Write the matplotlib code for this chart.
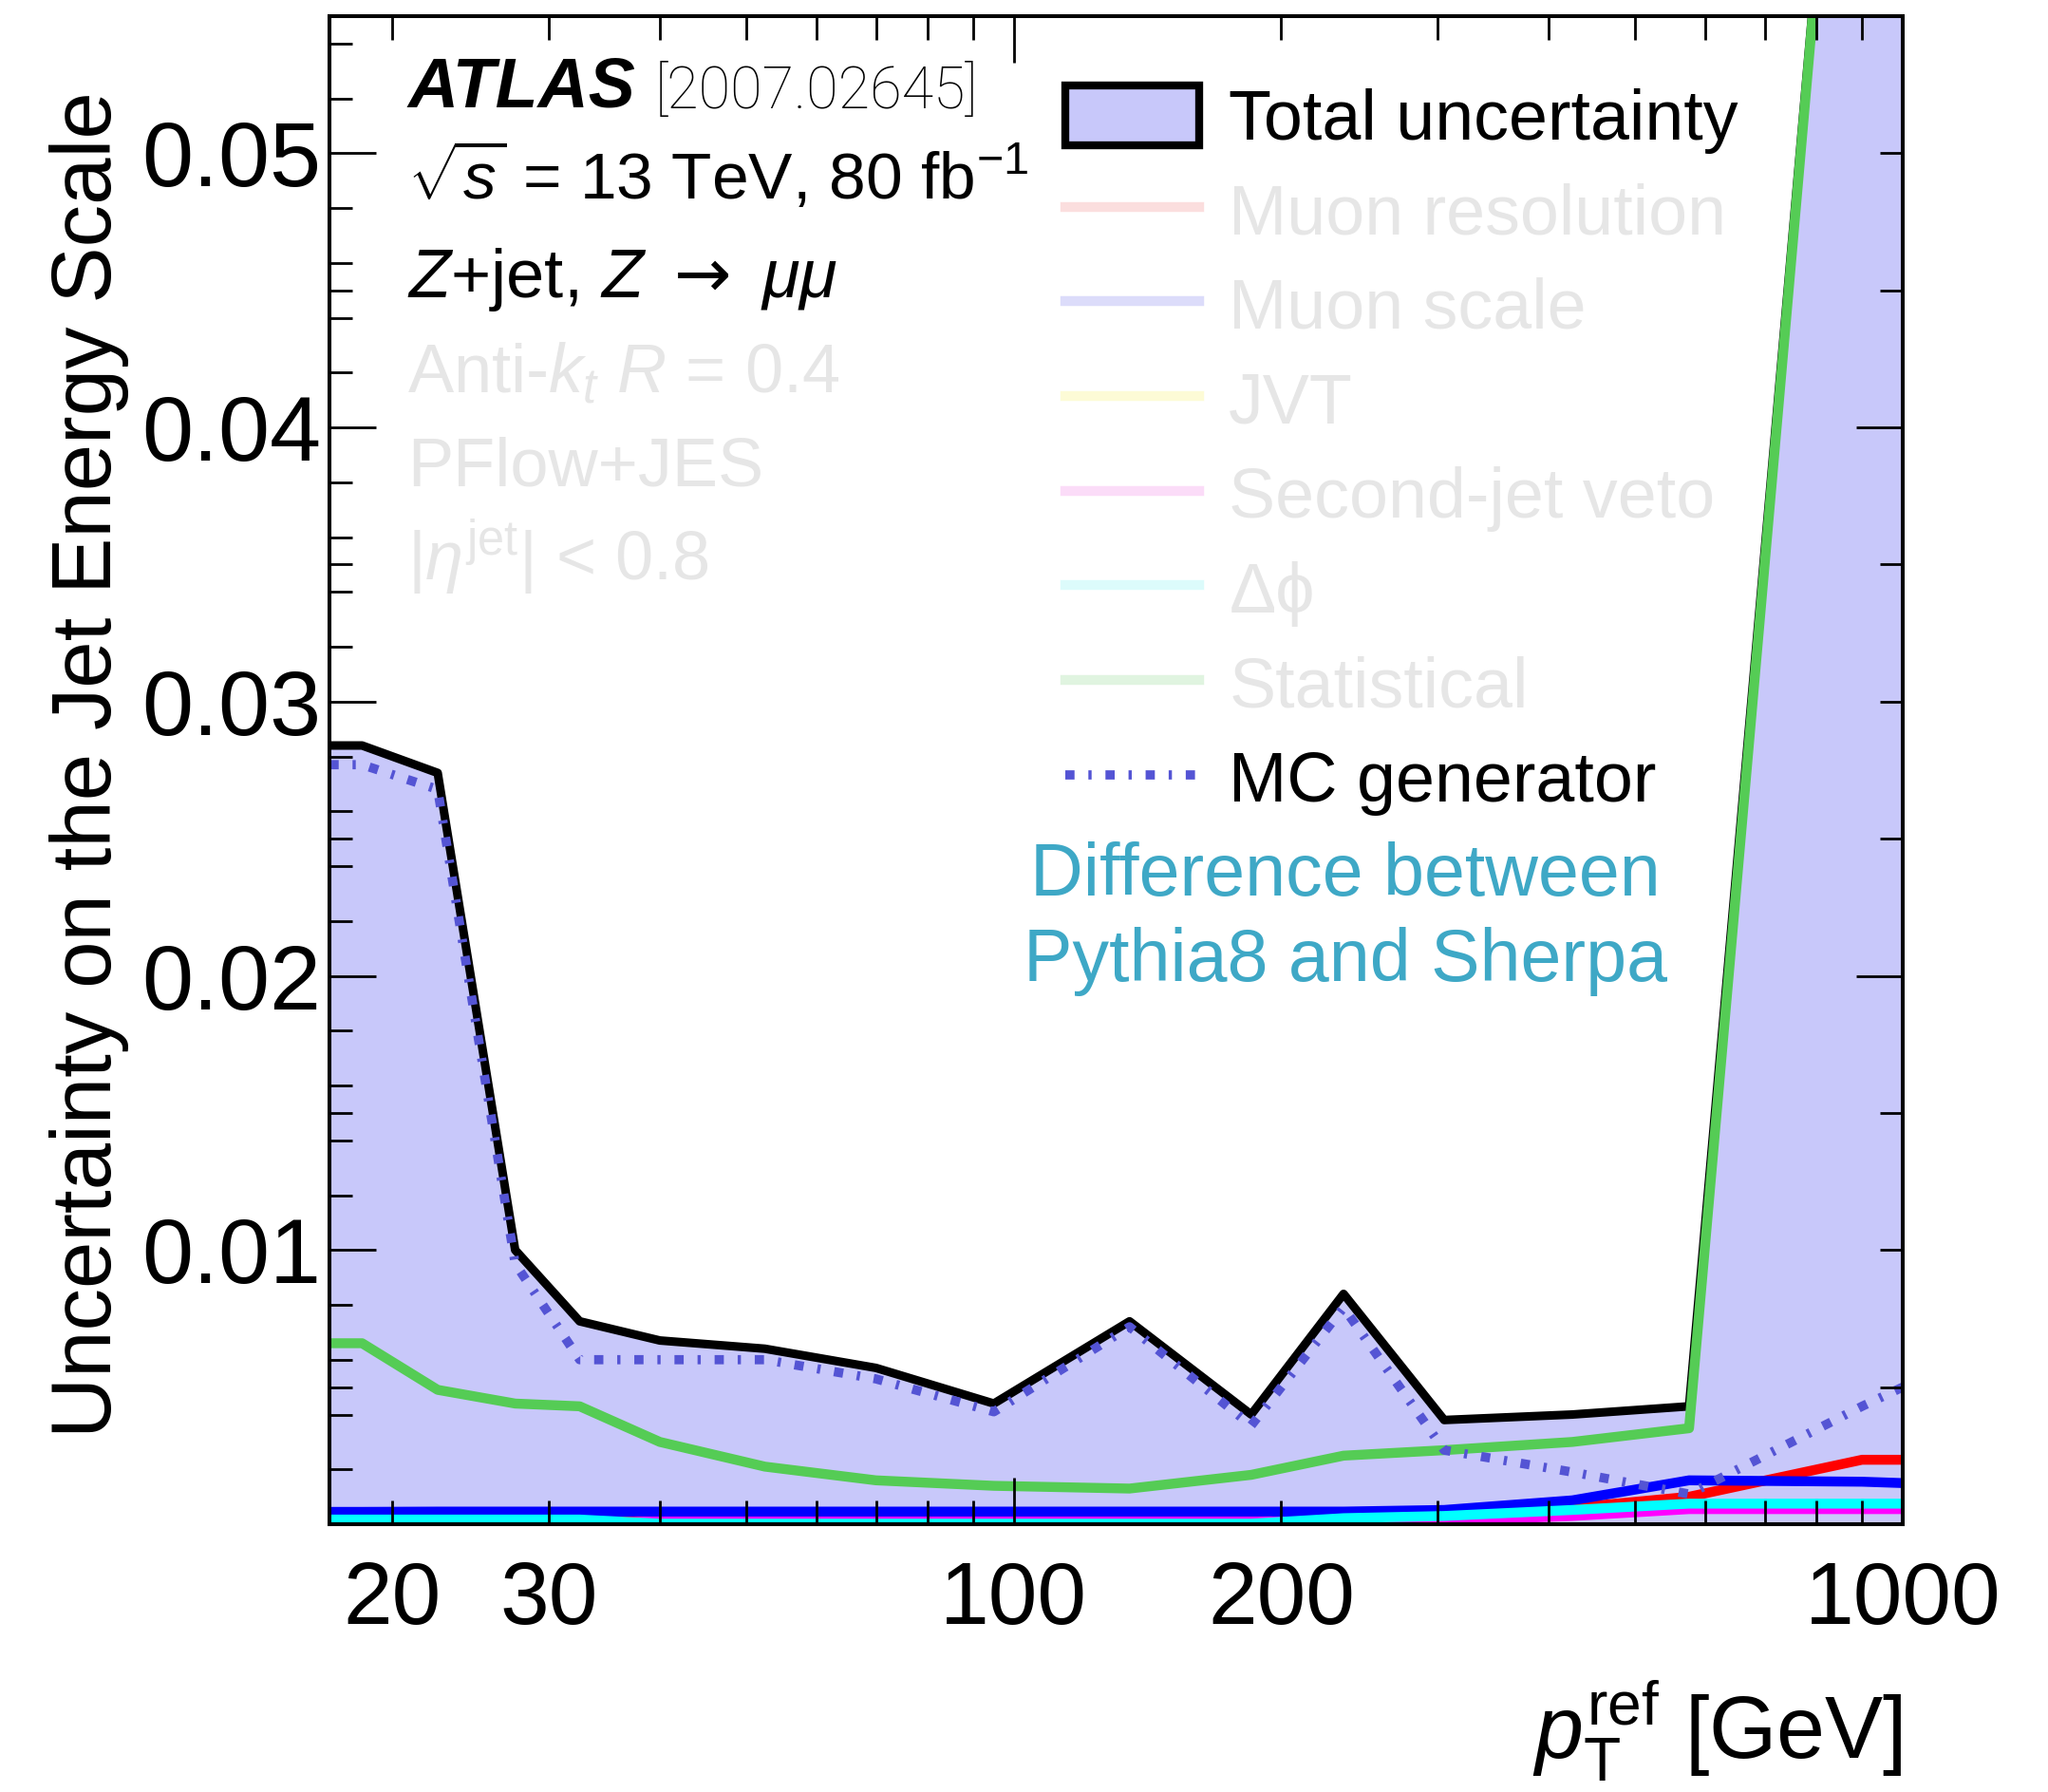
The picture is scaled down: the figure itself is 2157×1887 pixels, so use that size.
import matplotlib
matplotlib.use("Agg")
import matplotlib.pyplot as plt
from matplotlib.lines import Line2D
from matplotlib.patches import Patch

# ---- style ----
FIG_W, FIG_H, DPI = 21.57, 18.87, 100
XTICK_SIZE = 67
YTICK_SIZE = 70
LABEL_SIZE = 66
LEGEND_SIZE = 53
TEXT_SIZE = 52
LINE_W = 7.5

BAND = "#c8c8fa"
GREEN = "#55cc55"
MC_BLUE = "#5454d4"
NOTE_BLUE = "#3ea8c6"
FADED_TEXT = "#e6e6e6"

plt.rcParams.update({
    "font.family": ["Liberation Sans", "DejaVu Sans"],
    "mathtext.fontset": "custom",
    "mathtext.rm": "Liberation Sans",
    "mathtext.it": "Liberation Sans:italic",
    "mathtext.bf": "Liberation Sans:bold",
    "mathtext.sf": "DejaVu Sans",
})

# ---- data ----
pt_ref = [17, 18.5, 22.5, 27.5, 32.5, 40, 52.5, 70, 95, 135, 185, 235, 305, 425, 575, 900, 1000]

total = [0.0284, 0.0284, 0.0274, 0.0100, 0.0074, 0.0067, 0.0064, 0.0057, 0.0044,
         0.0074, 0.0040, 0.0084, 0.0038, 0.0040, 0.0043, 0.0757, 0.0757]
mc_generator = [0.0277, 0.0277, 0.0268, 0.0095, 0.0060, 0.0060, 0.0060, 0.0053, 0.0041,
                0.0072, 0.0036, 0.0079, 0.0027, 0.0019, 0.0011, 0.0043, 0.0050]
statistical = [0.0066, 0.0066, 0.0049, 0.0044, 0.0043, 0.0030, 0.0021, 0.0016, 0.0014,
               0.0013, 0.0018, 0.0025, 0.0027, 0.0030, 0.0035, 0.0756, 0.0756]
muon_scale = [0.00045, 0.00045, 0.00046, 0.00046, 0.00046, 0.00046, 0.00046, 0.00046, 0.00046,
              0.00046, 0.00046, 0.00046, 0.00052, 0.00087, 0.0016, 0.00155, 0.0015]
muon_resolution = [0.00002, 0.00002, 0.00002, 0.00002, 0.00002, 0.00025, 0.00025, 0.00025, 0.00025,
                   0.00025, 0.00025, 0.00025, 0.0003, 0.0006, 0.0010, 0.00235, 0.00235]
second_jet_veto = [0.0, 0.0, 0.0, 0.0, 0.0, 0.00012, 0.00012, 0.00012, 0.00012,
                   0.00012, 0.00012, 0.00012, 0.00012, 0.0003, 0.00055, 0.00055, 0.00055]
delta_phi = [0.00017, 0.00017, 0.00017, 0.00017, 0.00017, 0.00002, 0.00002, 0.00002, 0.00002,
             0.00002, 0.00002, 0.00022, 0.0003, 0.00052, 0.00075, 0.00075, 0.00075]

legend_labels = ["Total uncertainty", "Muon resolution", "Muon scale", "JVT",
                 "Second-jet veto", "\u0394\u03d5", "Statistical", "MC generator"]
faded_colors = ["#fbdede", "#dcdcfa", "#fdfbd6", "#fbdcf8", "#dcfbfb", "#e0f4e0"]

x_major = [100, 1000]
x_minor = [20, 30, 40, 50, 60, 70, 80, 90, 200, 300, 400, 500, 600, 700, 800, 900]
x_minor_labels = ["20", "30", "", "", "", "", "", "", "200", "", "", "", "", "", "", ""]
y_major = [0.01, 0.02, 0.03, 0.04, 0.05]
y_major_labels = ["0.01", "0.02", "0.03", "0.04", "0.05"]

MC_DASH = (0, (1.0, 1.5, 0.35, 1.5))

# ---- plot ----
fig = plt.figure(figsize=(FIG_W, FIG_H), dpi=DPI)
ax = fig.add_axes([0.16087, 0.14944, 0.76820, 0.84155])

ax.fill_between(pt_ref, 0, total, color=BAND, linewidth=0, zorder=1)
ax.plot(pt_ref, total, color="black", lw=6.5, zorder=2)
ax.plot(pt_ref, muon_resolution, color="red", lw=LINE_W, zorder=2)
ax.plot(pt_ref, second_jet_veto, color="magenta", lw=LINE_W, zorder=2)
ax.plot(pt_ref, muon_scale, color="blue", lw=LINE_W, zorder=2)
ax.plot(pt_ref, delta_phi, color="cyan", lw=LINE_W, zorder=2)
ax.plot(pt_ref, statistical, color=GREEN, lw=LINE_W, zorder=2)
ax.plot(pt_ref, mc_generator, color=MC_BLUE, lw=7, ls=MC_DASH, zorder=2)

ax.set_xscale("log")
ax.set_xlim(17, 1000)
ax.set_ylim(0, 0.055)

ax.set_xticks(x_major, labels=["100", "1000"])
ax.set_xticks(x_minor, labels=x_minor_labels, minor=True)
ax.set_yticks(y_major, labels=y_major_labels)
ax.set_yticks([v / 1000 for v in range(2, 55) if (v % 2 == 0 or v % 5 == 0) and v % 10 != 0],
              minor=True)

ax.set_axisbelow(False)

# right-hand ticks follow a different pattern, use a twin
axr = ax.twinx()
axr.set_ylim(0, 0.055)
axr.set_yticks([0.02, 0.04])
axr.set_yticks([0.005, 0.01, 0.015, 0.025, 0.03, 0.035, 0.045, 0.05], minor=True)
axr.tick_params(axis="y", which="both", direction="in", labelright=False, width=2.0)
axr.tick_params(axis="y", which="major", length=35)
axr.tick_params(axis="y", which="minor", length=17)
for s in axr.spines.values():
    s.set_visible(False)

ax.tick_params(axis="both", which="both", direction="in", top=True, right=False, width=2.0)
ax.tick_params(axis="x", which="both", labelsize=XTICK_SIZE, pad=27)
ax.tick_params(axis="x", which="major", length=35)
ax.tick_params(axis="x", which="minor", length=18)
ax.tick_params(axis="y", which="major", length=35, pad=6, labelsize=YTICK_SIZE)
ax.tick_params(axis="y", which="minor", length=17)
for s in ax.spines.values():
    s.set_linewidth(2.9)

ax.set_xlabel(r"$p_{\mathrm{T}}^{\mathrm{ref}}$ [GeV]", fontsize=LABEL_SIZE, loc="right")
ax.xaxis.set_label_coords(1.0, -0.155)
ax.xaxis.label.set_va("baseline")
ax.set_ylabel("Uncertainty on the Jet Energy Scale", fontsize=64, loc="top")
ax.yaxis.set_label_coords(-0.1388, 0.950)
ax.yaxis.label.set_va("baseline")

# ---- annotations ----
tr = ax.transAxes
ax.text(0.0497, 0.939, "ATLAS", fontsize=53, fontweight="bold", fontstyle="italic",
        transform=tr, va="baseline")
ax.text(0.2070, 0.939, "[2007.02645]", fontsize=44, fontweight="light",
        family=["Roboto", "Lato", "Liberation Sans"], transform=tr, va="baseline")
ax.text(0.0497, 0.8787, r"$\sqrt{s}$ = 13 TeV, 80 fb$^{\mathrm{-1}}$", fontsize=50,
        transform=tr, va="baseline")
ax.text(0.0497, 0.8139, r"$Z$+jet, $Z$ $\mathsf{\rightarrow}$ $\mu\mu$", fontsize=TEXT_SIZE,
        transform=tr, va="baseline")
ax.text(0.0497, 0.7506, r"Anti-$k_{t}$ $R$ = 0.4", fontsize=TEXT_SIZE, color=FADED_TEXT,
        transform=tr, va="baseline")
ax.text(0.0497, 0.6889, "PFlow+JES", fontsize=TEXT_SIZE, color=FADED_TEXT,
        transform=tr, va="baseline")
ax.text(0.0497, 0.6256, r"|$\eta^{\mathrm{jet}}$| < 0.8", fontsize=TEXT_SIZE, color=FADED_TEXT,
        transform=tr, va="baseline")

ax.text(0.6457, 0.4166, "Difference between", fontsize=55.5, color=NOTE_BLUE,
        transform=tr, ha="center", va="baseline")
ax.text(0.6457, 0.3605, "Pythia8 and Sherpa", fontsize=55.5, color=NOTE_BLUE,
        transform=tr, ha="center", va="baseline")

# ---- legend ----
handles = [Patch(facecolor=BAND, edgecolor="black", linewidth=6, joinstyle="round")]
handles += [Line2D([0], [0], color=c, lw=LINE_W) for c in faded_colors]
handles += [Line2D([0], [0], color=MC_BLUE, lw=7, ls=MC_DASH)]

leg = ax.legend(handles, legend_labels, loc="upper left", bbox_to_anchor=(0.5202, 0.9525),
                bbox_transform=fig.transFigure, frameon=False, fontsize=LEGEND_SIZE,
                handlelength=1.92, handleheight=0.95, handletextpad=0.42,
                labelspacing=0.375, borderpad=0, borderaxespad=0)
for i, t in enumerate(leg.get_texts()):
    t.set_color("black" if i in (0, 7) else FADED_TEXT)

fig.savefig("out.png", dpi=DPI)
